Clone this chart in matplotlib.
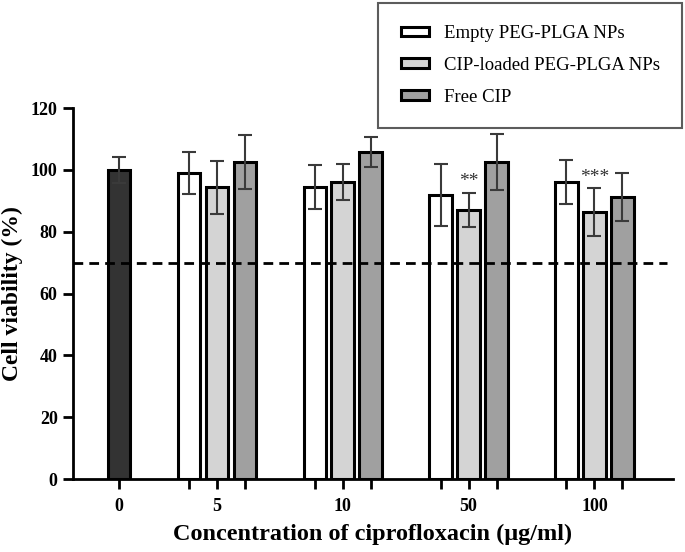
import numpy as np
import matplotlib.pyplot as plt

plt.rcParams['font.family'] = ['Liberation Serif', 'DejaVu Serif']

# Data
concentrations = ['0', '5', '10', '50', '100']
control_mean = 99.9
control_sd = 4.3
series_names = ['Empty PEG-PLGA NPs', 'CIP-loaded PEG-PLGA NPs', 'Free CIP']
series_colors = ['#ffffff', '#d4d4d4', '#a0a0a0']
empty_mean = [98.9, 94.4, 92.0, 96.1]
empty_sd = [6.8, 7.1, 10.0, 7.1]
loaded_mean = [94.3, 96.1, 87.0, 86.3]
loaded_sd = [8.6, 5.9, 5.6, 7.8]
free_mean = [102.5, 105.7, 102.5, 91.2]
free_sd = [8.8, 4.8, 9.1, 7.9]
signif = ['', '', '**', '***']
threshold = 70

fig = plt.figure(figsize=(6.85, 5.52), dpi=100)
ax = fig.add_axes([0.1066, 0.1322, 0.8755, 0.6721])

width = 0.8
edge = dict(edgecolor='black', linewidth=2.2)
err = dict(ecolor='#3a3a3a', elinewidth=1.5, capsize=5, capthick=1.5)

# control bar
ax.bar(0, control_mean, width, color='#333333', yerr=control_sd, zorder=2, **edge, error_kw=err)

centers = 3.5 + 4.5 * np.arange(4)
means = [empty_mean, loaded_mean, free_mean]
sds = [empty_sd, loaded_sd, free_sd]
ticks = [0]
for i in range(3):
    x = centers + (i - 1)
    ax.bar(x, means[i], width, color=series_colors[i], yerr=sds[i], label=series_names[i],
           zorder=2, **edge, error_kw=err)
    ticks += list(x)

for j, s in enumerate(signif):
    if s:
        ax.text(centers[j], loaded_mean[j] + loaded_sd[j] + 0.8, s, ha='center', va='bottom',
                fontsize=14, color='#333333')

ax.axhline(threshold, color='black', linestyle=(0, (3.5, 2.2)), linewidth=2, xmax=0.99, zorder=3)

ax.set_xlim(-1.64, 19.8)
ax.set_ylim(0, 120)
ax.set_yticks(np.arange(0, 121, 20))
ax.set_xticks(sorted(ticks))
labels = []
for t in sorted(ticks):
    if t == 0:
        labels.append(concentrations[0])
    elif any(abs(t - c) < 1e-6 for c in centers):
        labels.append(concentrations[1 + int(np.argmin(abs(centers - t)))])
    else:
        labels.append('')
ax.set_xticklabels(labels)

for sp in ['top', 'right']:
    ax.spines[sp].set_visible(False)
for sp in ['left', 'bottom']:
    ax.spines[sp].set_linewidth(2)
ax.tick_params(width=2, length=7, labelsize=13, pad=4)
for lab in ax.get_xticklabels() + ax.get_yticklabels():
    lab.set_fontweight('bold')
ax.tick_params(axis='x', pad=7)

ax.set_xlabel('Concentration of ciprofloxacin (μg/ml)', fontsize=17.5, fontweight='bold', labelpad=6)
ax.set_ylabel('Cell viability (%)', fontsize=17, fontweight='bold', labelpad=6)

leg = fig.legend(loc='upper right', bbox_to_anchor=(0.996, 0.995), fontsize=13.5, frameon=True,
                 fancybox=False, handlelength=1.5, handleheight=0.4, labelspacing=0.78,
                 borderpad=1.2, handletextpad=0.8, borderaxespad=0)
leg.get_frame().set_edgecolor('#333333')
leg.get_frame().set_linewidth(1.5)

fig.savefig('out.png', dpi=100)
